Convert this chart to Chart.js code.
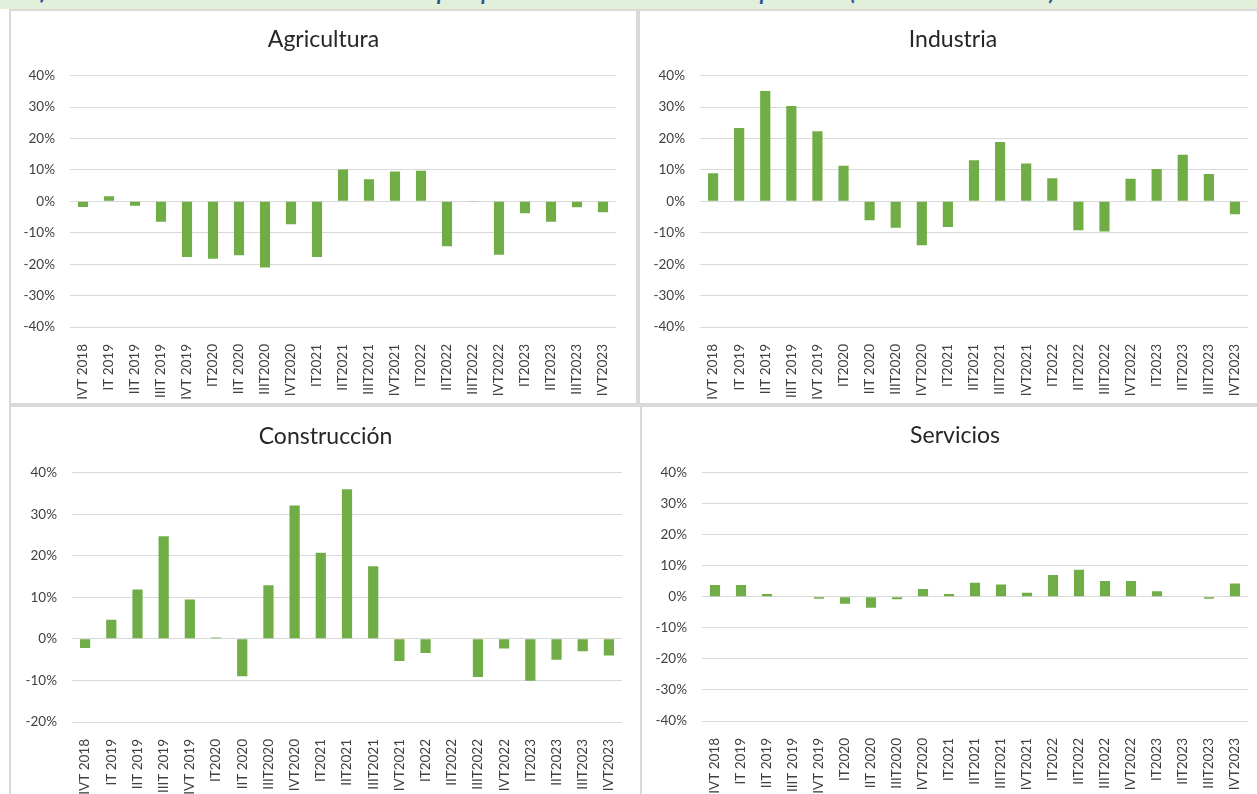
<!DOCTYPE html>
<html lang="es">
<head>
<meta charset="utf-8">
<title>Empleo por sectores</title>
<script src="https://cdn.jsdelivr.net/npm/chart.js@4/dist/chart.umd.min.js"></script>
<style>
  html, body {
    margin: 0;
    padding: 0;
    background: #fff;
    width: 1257px;
    height: 794px;
    overflow: hidden;
    font-family: Lato, "Open Sans", sans-serif;
  }
  #heading {
    position: absolute;
    left: 0;
    top: 0;
    width: 1257px;
    height: 9px;
    background: #e2efda;
    overflow: hidden;
  }
  #heading span {
    position: absolute;
    left: 6px;
    top: -22px;
    white-space: nowrap;
    font: italic bold 22px Lato, sans-serif;
    color: #2f5597;
  }
  .panel {
    position: absolute;
    border: 2px solid #d9d9d9;
    background: #fff;
    box-sizing: border-box;
  }
  .panel canvas {
    position: absolute;
    left: 0;
    top: 0;
  }
</style>
</head>
<body>
<div id="heading"><span>Gráfico 11. Tasa de variación interanual del empleo por sectores económicos en la provincia (IVT 2018 - IVT 2023)</span></div>

<div class="panel" id="p-agri"><canvas id="c-agri"></canvas></div>
<div class="panel" id="p-ind"><canvas id="c-ind"></canvas></div>
<div class="panel" id="p-cons"><canvas id="c-cons"></canvas></div>
<div class="panel" id="p-serv"><canvas id="c-serv"></canvas></div>

<script>
'use strict';

// quarters shown on the x axis
const QUARTERS = [
  'IVT 2018', 'IT 2019', 'IIT 2019', 'IIIT 2019', 'IVT 2019',
  'IT2020', 'IIT 2020', 'IIIT2020', 'IVT2020',
  'IT2021', 'IIT2021', 'IIIT2021', 'IVT2021',
  'IT2022', 'IIT2022', 'IIIT2022', 'IVT2022',
  'IT2023', 'IIT2023', 'IIIT2023', 'IVT2023',
];

// year-on-year change, in %
const AGRICULTURA = [
  -1.8, 1.6, -1.4, -6.5, -17.7,
  -18.3, -17.2, -21.1, -7.3,
  -17.7, 10.1, 7.0, 9.5,
  9.7, -14.3, -0.2, -17.0,
  -3.8, -6.5, -1.9, -3.5,
];

const INDUSTRIA = [
  8.9, 23.3, 35.1, 30.3, 22.3,
  11.3, -6.0, -8.4, -14.0,
  -8.2, 13.1, 18.9, 12.0,
  7.3, -9.2, -9.6, 7.2,
  10.3, 14.8, 8.7, -4.1,
];

const CONSTRUCCION = [
  -2.2, 4.6, 11.9, 24.7, 9.5,
  0.3, -9.0, 12.9, 32.1,
  20.7, 36.0, 17.5, -5.3,
  -3.4, 0, -9.2, -2.3,
  -10.1, -5.0, -3.0, -4.0,
];

const SERVICIOS = [
  3.8, 3.8, 0.9, 0.2, -0.6,
  -2.2, -3.5, -0.8, 2.5,
  0.9, 4.5, 4.0, 1.3,
  7.0, 8.7, 5.1, 5.1,
  1.8, 0, -0.6, 4.3,
];

const BAR_COLOR = '#70ad47';
const GRID_COLOR = '#d9d9d9';
const TEXT_COLOR = '#404040';
const TITLE_COLOR = '#262626';

// panel box, chart area margins and title position (all in px)
const PANELS = [
  { key: 'agri', title: 'Agricultura', data: AGRICULTURA, min: -40, max: 40,
    left: 9, top: 9, width: 629, height: 396,
    yWidth: 59, padRight: 20, xHeight: 76, titleTop: 15, titleBottom: 22 },
  { key: 'ind', title: 'Industria', data: INDUSTRIA, min: -40, max: 40,
    left: 638, top: 9, width: 630, height: 396,
    yWidth: 60, padRight: 18, xHeight: 76, titleTop: 15, titleBottom: 22 },
  { key: 'cons', title: 'Construcción', data: CONSTRUCCION, min: -20, max: 40,
    left: 9, top: 405, width: 633, height: 400,
    yWidth: 61, padRight: 18, xHeight: 72, titleTop: 16, titleBottom: 22 },
  { key: 'serv', title: 'Servicios', data: SERVICIOS, min: -40, max: 40,
    left: 640, top: 405, width: 630, height: 400,
    yWidth: 60, padRight: 20, xHeight: 73, titleTop: 15, titleBottom: 23 },
];

function buildChart(p) {
  const box = document.getElementById('p-' + p.key);
  box.style.left = p.left + 'px';
  box.style.top = p.top + 'px';
  box.style.width = p.width + 'px';
  box.style.height = p.height + 'px';

  const canvas = document.getElementById('c-' + p.key);
  const w = p.width - 4;
  const h = Math.min(p.height - 4, 794 - p.top - 2);
  canvas.width = w;
  canvas.height = h;
  canvas.style.width = w + 'px';
  canvas.style.height = h + 'px';

  return new Chart(canvas, {
    type: 'bar',
    data: {
      labels: QUARTERS,
      datasets: [{
        data: p.data,
        backgroundColor: BAR_COLOR,
        borderWidth: 0,
        categoryPercentage: 1,
        barPercentage: 0.39,
      }],
    },
    options: {
      responsive: false,
      animation: false,
      layout: { padding: 0 },
      plugins: {
        legend: { display: false },
        tooltip: { enabled: false },
        title: {
          display: true,
          text: p.title,
          color: TITLE_COLOR,
          font: { family: 'Lato', size: 23, weight: 'normal', lineHeight: 1.2 },
          padding: { top: p.titleTop, bottom: p.titleBottom },
        },
      },
      scales: {
        x: {
          grid: { display: false },
          border: { display: false },
          ticks: {
            color: TEXT_COLOR,
            font: { family: 'Lato', size: 13.5 },
            minRotation: 90,
            maxRotation: 90,
            autoSkip: false,
            padding: 9,
          },
          afterFit(axis) { axis.height = p.xHeight; },
        },
        y: {
          min: p.min,
          max: p.max,
          grid: { color: GRID_COLOR, lineWidth: 1, drawTicks: false },
          border: { display: false },
          ticks: {
            stepSize: 10,
            color: TEXT_COLOR,
            font: { family: 'Lato', size: 13.5 },
            padding: 15,
            callback: (v) => v + '%',
          },
          afterFit(axis) { axis.width = p.yWidth; },
        },
        // empty right-hand gutter so the title stays centred on the whole panel
        gutter: {
          type: 'linear',
          position: 'right',
          grid: { display: false },
          border: { display: false },
          ticks: { display: false },
          afterFit(axis) { axis.width = p.padRight; },
        },
      },
    },
  });
}

PANELS.forEach(buildChart);
</script>
</body>
</html>
